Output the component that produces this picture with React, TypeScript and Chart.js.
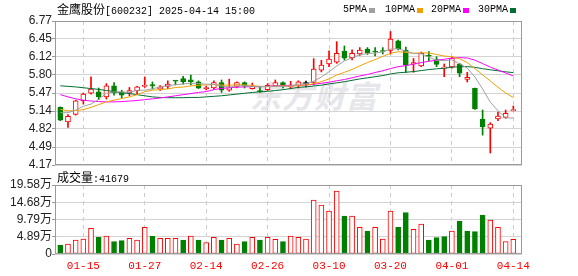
import React, { useEffect, useRef } from "react";
import { Chart, registerables } from "chart.js";

Chart.register(...registerables);

const dates = ["01-10","01-13","01-14","01-15","01-16","01-17","01-20","01-21","01-22","01-23","01-24","01-27","02-05","02-06","02-07","02-10","02-11","02-12","02-13","02-14","02-17","02-18","02-19","02-20","02-21","02-24","02-25","02-26","02-27","02-28","03-03","03-04","03-05","03-06","03-07","03-10","03-11","03-12","03-13","03-14","03-17","03-18","03-19","03-20","03-21","03-24","03-25","03-26","03-27","03-28","03-31","04-01","04-02","04-03","04-07","04-08","04-09","04-10","04-11","04-14"];

const openP = [5.21,4.95,5.085,5.33,5.465,5.49,5.40,5.60,5.49,5.47, 5.51,5.59,5.62,5.54,5.59,5.69,5.73,5.71,5.67,5.55, 5.56,5.66,5.52,5.59,5.66,5.55,5.51,5.53,5.60,5.66, 5.58,5.60,5.64,5.66,5.88,5.994,6.025,6.228,6.11,6.174, 6.264,6.228,6.237,6.237,6.41,6.246,5.994,5.957,6.15,6.075, 5.92,5.94,5.994,5.714,5.555,5.00,4.833,5.00,5.031,5.15];
const highP = [5.22,5.08,5.34,5.47,5.76,5.56,5.64,5.66,5.52,5.57, 5.59,5.76,5.67,5.605,5.69,5.69,5.77,5.795,5.69,5.59, 5.69,5.705,5.72,5.67,5.67,5.65,5.58,5.64,5.705,5.67, 5.68,5.69,5.685,6.09,6.06,6.23,6.397,6.32,6.25,6.29, 6.29,6.29,6.29,6.58,6.427,6.30,6.093,6.21,6.216,6.125, 5.994,6.12,6.006,5.844,5.56,5.163,4.934,5.127,5.163,5.235];
const lowP = [4.97,4.85,5.07,5.27,5.45,5.35,5.36,5.43,5.38,5.42, 5.45,5.57,5.54,5.515,5.55,5.615,5.63,5.615,5.55,5.525, 5.54,5.48,5.50,5.56,5.56,5.54,5.48,5.515,5.59,5.56, 5.55,5.56,5.58,5.615,5.85,5.945,6.006,6.066,6.066,6.147, 6.165,6.138,6.174,6.174,6.246,5.84,5.844,5.945,6.05,5.945, 5.764,5.92,5.764,5.669,5.175,4.71,4.387,4.97,5.013,5.145];
const closeP = [4.98,5.05,5.33,5.45,5.54,5.40,5.60,5.47,5.43,5.515, 5.58,5.61,5.60,5.58,5.63,5.685,5.67,5.67,5.555,5.57, 5.66,5.52,5.57,5.66,5.60,5.59,5.495,5.61,5.66,5.60, 5.61,5.67,5.64,5.90,5.975,6.084,6.187,6.10,6.187,6.246, 6.20,6.21,6.22,6.445,6.27,5.975,6.02,6.187,6.133,5.988, 5.936,6.10,5.826,5.753,5.181,4.856,4.91,5.055,5.103,5.17];

const ma5 = [5.115,5.115,5.16,5.23,5.27,5.354,5.464,5.492,5.488,5.483, 5.519,5.521,5.547,5.577,5.60,5.621,5.633,5.647,5.642,5.63, 5.625,5.595,5.575,5.596,5.602,5.588,5.583,5.591,5.591,5.591, 5.595,5.63,5.636,5.684,5.759,5.854,5.957,6.049,6.107,6.161, 6.184,6.189,6.213,6.264,6.269,6.224,6.186,6.179,6.117,6.061, 6.053,6.069,5.997,5.921,5.759,5.543,5.305,5.151,5.021,5.019];
const ma10 = [5.175,5.15,5.15,5.17,5.21,5.26,5.31,5.34,5.37,5.40, 5.44,5.493,5.520,5.533,5.542,5.570,5.577,5.597,5.610,5.615, 5.623,5.614,5.611,5.619,5.616,5.607,5.589,5.583,5.594,5.597, 5.592,5.607,5.614,5.638,5.675,5.724,5.794,5.843,5.895,5.960, 6.019,6.073,6.131,6.185,6.215,6.204,6.187,6.196,6.191,6.165, 6.138,6.127,6.088,6.019,5.910,5.798,5.687,5.574,5.471,5.389];
const ma20 = [5.44,5.40,5.365,5.34,5.325,5.315,5.31,5.31,5.315,5.325, 5.335,5.35,5.365,5.38,5.40,5.42,5.44,5.46,5.48,5.496, 5.530,5.553,5.565,5.576,5.579,5.588,5.583,5.590,5.602,5.606, 5.607,5.610,5.612,5.628,5.646,5.665,5.691,5.713,5.744,5.778, 5.805,5.840,5.872,5.911,5.945,5.964,5.990,6.019,6.043,6.062, 6.079,6.100,6.109,6.102,6.062,6.001,5.937,5.885,5.831,5.777];
const ma30 = [5.60,5.59,5.58,5.565,5.55,5.535,5.515,5.495,5.475,5.46, 5.44,5.42,5.40,5.39,5.385,5.385,5.385,5.39,5.39,5.40, 5.41,5.42,5.435,5.45,5.465,5.48,5.49,5.50,5.515,5.529, 5.550,5.571,5.581,5.596,5.611,5.634,5.653,5.674,5.699,5.724, 5.744,5.764,5.785,5.814,5.835,5.845,5.857,5.874,5.893,5.907, 5.916,5.936,5.944,5.947,5.933,5.909,5.889,5.871,5.852,5.838];

// volume in 万 (10k shares)
const volume = [2.55,2.84,3.97,4.26,7.29,4.73,5.11,3.50,3.78,4.45, 3.97,7.57,5.11,4.45,4.45,4.45,3.97,5.11,3.97,3.21, 4.73,3.97,4.45,2.84,3.50,4.73,3.97,4.73,4.17,3.50, 5.11,4.73,4.26,15.32,13.90,12.20,17.88,10.78,10.78,7.57, 6.53,7.57,4.26,12.20,7.57,11.73,7.00,8.51,3.97,4.64, 4.92,6.53,9.36,6.53,6.34,11.07,9.65,7.57,3.50,4.17];
const volumeUp = [0,1,1,1,1,0,1,0,0,1, 1,1,0,1,1,1,0,1,0,1, 1,0,1,1,0,1,0,1,1,0, 1,1,1,1,1,1,1,0,1,1, 0,1,1,1,0,0,1,1,0,0, 0,1,0,0,0,0,1,1,1,1];

const xTickLabels = ["01-15","01-27","02-14","02-26","03-10","03-20","04-01","04-14"];
const priceTicks = [4.17, 4.495, 4.82, 5.145, 5.47, 5.795, 6.12, 6.445, 6.77];
const priceTickLabels = ["4.17","4.49","4.82","5.14","5.47","5.80","6.12","6.45","6.77"];
const volTicks = [0, 4.895, 9.79, 14.685, 19.58];
const volTickLabels = ["0","4.89万","9.79万","14.68万","19.58万"];

const RED = "#ff0000";
const GREEN = "#008000";
const DOJI = "#000000";
const MA_COLORS = ["#a0a0a0", "#f0a000", "#ff00ff", "#006f30"];
const FONT = "'Liberation Sans', 'Noto Sans CJK SC', sans-serif";
const MONO = "'Liberation Mono', 'DejaVu Sans Mono', monospace";
const CJK = "'Noto Sans CJK SC', sans-serif";
const X_MIN = -0.69;
const X_MAX = 60.13;

const xTickIdx = xTickLabels.map((l) => dates.indexOf(l));

const candleColor = (i: number) =>
  closeP[i] > openP[i] ? RED : closeP[i] < openP[i] ? GREEN : DOJI;

const framePlugin = {
  id: "frame",
  afterDraw(chart: any) {
    const { ctx, chartArea } = chart;
    const l = Math.round(chartArea.left);
    const t = Math.round(chartArea.top);
    const r = Math.round(chartArea.right);
    const b = Math.round(chartArea.bottom);
    ctx.save();
    ctx.strokeStyle = "#9a9a9a";
    ctx.lineWidth = 1;
    ctx.strokeRect(l + 0.5, t + 0.5, r - l - 1, b - t - 1);
    ctx.restore();
  },
};

function makeX(showLabels: boolean, height: number) {
  return {
    type: "linear",
    min: X_MIN,
    max: X_MAX,
    bounds: "data",
    offset: false,
    afterBuildTicks: (s: any) => {
      s.ticks = xTickIdx.map((v) => ({ value: v }));
    },
    afterFit: (s: any) => {
      s.height = height;
    },
    ticks: {
      display: showLabels,
      autoSkip: false,
      maxRotation: 0,
      color: RED,
      font: { family: MONO, size: 11 },
      padding: 5,
      callback: (v: any) => dates[Math.round(v)],
    },
    grid: { color: "#cccccc", drawTicks: false, offset: false, lineWidth: 1 },
    border: { display: false, dash: [4, 4] },
  };
}

function makeY(min: number, max: number, ticks: number[], labels: string[]) {
  return {
    type: "linear",
    min,
    max,
    bounds: "data",
    beginAtZero: false,
    afterBuildTicks: (s: any) => {
      s.ticks = ticks.map((v) => ({ value: v }));
    },
    afterFit: (s: any) => {
      s.width = 55;
    },
    ticks: {
      autoSkip: false,
      color: "#222222",
      font: { family: FONT, size: 12 },
      padding: 0,
      callback: (_v: any, i: number) => labels[i],
    },
    grid: { color: "#d4d4d4", tickColor: "#9a9a9a", tickLength: 3, lineWidth: 1 },
    border: { display: false },
  };
}

export default function App() {
  const priceRef = useRef<HTMLCanvasElement>(null);
  const volRef = useRef<HTMLCanvasElement>(null);

  useEffect(() => {
    const idx = dates.map((_, i) => i);
    const colors = idx.map(candleColor);
    const lineDs = (data: number[], color: string) => ({
      type: "line",
      data: data.map((v, i) => ({ x: i, y: v })),
      borderColor: color,
      borderWidth: 1,
      pointRadius: 0,
      tension: 0,
      fill: false,
      order: 0,
    });

    const priceChart = new Chart(priceRef.current as HTMLCanvasElement, {
      type: "bar",
      data: {
        datasets: [
          lineDs(ma5, MA_COLORS[0]),
          lineDs(ma10, MA_COLORS[1]),
          lineDs(ma20, MA_COLORS[2]),
          lineDs(ma30, MA_COLORS[3]),
          {
            type: "bar",
            data: idx.map((i) => ({ x: i, y: [openP[i], closeP[i]] })),
            backgroundColor: idx.map((i) => (colors[i] === RED ? "#ffffff" : colors[i])),
            borderColor: colors,
            borderWidth: 1,
            borderSkipped: false,
            minBarLength: 1,
            grouped: false,
            barPercentage: 1,
            categoryPercentage: 1,
            maxBarThickness: 5,
            order: 1,
          },
          {
            type: "bar",
            data: idx.map((i) => ({ x: i, y: [lowP[i], highP[i]] })),
            backgroundColor: colors,
            borderWidth: 0,
            grouped: false,
            barPercentage: 1,
            categoryPercentage: 1,
            maxBarThickness: 1,
            order: 2,
          },
        ] as any,
      },
      options: {
        responsive: false,
        animation: false,
        events: [],
        layout: { padding: { left: 0, right: 56, top: 21, bottom: 10 } },
        plugins: { legend: { display: false }, tooltip: { enabled: false } },
        scales: {
          x: makeX(false, 0) as any,
          y: makeY(4.17, 6.77, priceTicks, priceTickLabels) as any,
        },
      },
      plugins: [framePlugin],
    });

    const volChart = new Chart(volRef.current as HTMLCanvasElement, {
      type: "bar",
      data: {
        datasets: [
          {
            data: idx.map((i) => ({ x: i, y: volume[i] })),
            backgroundColor: idx.map((i) => (volumeUp[i] ? "#ffffff" : GREEN)),
            borderColor: idx.map((i) => (volumeUp[i] ? RED : GREEN)),
            borderWidth: 1,
            borderSkipped: false,
            grouped: false,
            barPercentage: 1,
            categoryPercentage: 1,
            maxBarThickness: 5,
          },
        ] as any,
      },
      options: {
        responsive: false,
        animation: false,
        events: [],
        layout: { padding: { left: 0, right: 56, top: 15, bottom: 0 } },
        plugins: { legend: { display: false }, tooltip: { enabled: false } },
        scales: {
          x: makeX(true, 22) as any,
          y: makeY(0, 19.58, volTicks, volTickLabels) as any,
        },
      },
      plugins: [framePlugin],
    });

    return () => {
      priceChart.destroy();
      volChart.destroy();
    };
  }, []);

  const legendItems = [
    { label: "5PMA", left: 343, color: MA_COLORS[0] },
    { label: "10PMA", left: 385, color: MA_COLORS[1] },
    { label: "20PMA", left: 431, color: MA_COLORS[2] },
    { label: "30PMA", left: 478, color: MA_COLORS[3] },
  ];

  return (
    <div
      style={{
        position: "fixed",
        left: 0,
        top: 0,
        width: 578,
        height: 276,
        background: "#ffffff",
        overflow: "hidden",
      }}
    >
      <div
        style={{
          position: "absolute",
          left: 250,
          top: 72,
          fontFamily: CJK,
          fontSize: 31,
          fontWeight: 700,
          fontStyle: "italic",
          color: "#e6e6eb",
          whiteSpace: "nowrap",
          letterSpacing: 1,
        }}
      >
        东方财富
      </div>
      <canvas
        ref={priceRef}
        width={578}
        height={175}
        style={{ position: "absolute", left: 0, top: 0, width: 578, height: 175 }}
      />
      <canvas
        ref={volRef}
        width={578}
        height={106}
        style={{ position: "absolute", left: 0, top: 170, width: 578, height: 106 }}
      />
      <div
        style={{
          position: "absolute",
          left: 57,
          top: 2,
          height: 14,
          lineHeight: "14px",
          whiteSpace: "nowrap",
          color: "#000",
        }}
      >
        <span style={{ fontFamily: CJK, fontSize: 12 }}>金鹰股份</span>
        <span style={{ fontFamily: MONO, fontSize: 10 }}>[600232] 2025-04-14 15:00</span>
      </div>
      {legendItems.map((it) => (
        <div
          key={it.label}
          style={{
            position: "absolute",
            left: it.left,
            top: 3,
            lineHeight: "14px",
            whiteSpace: "nowrap",
            fontFamily: MONO,
            fontSize: 10,
            color: "#000",
            display: "flex",
            alignItems: "center",
          }}
        >
          <span>{it.label}</span>
          <span
            style={{
              display: "inline-block",
              width: 6,
              height: 5,
              marginLeft: 2,
              background: it.color,
            }}
          />
        </div>
      ))}
      <div
        style={{
          position: "absolute",
          left: 57,
          top: 170,
          lineHeight: "14px",
          whiteSpace: "nowrap",
          color: "#000",
        }}
      >
        <span style={{ fontFamily: CJK, fontSize: 12 }}>成交量</span>
        <span style={{ fontFamily: MONO, fontSize: 10 }}>:41679</span>
      </div>
    </div>
  );
}
